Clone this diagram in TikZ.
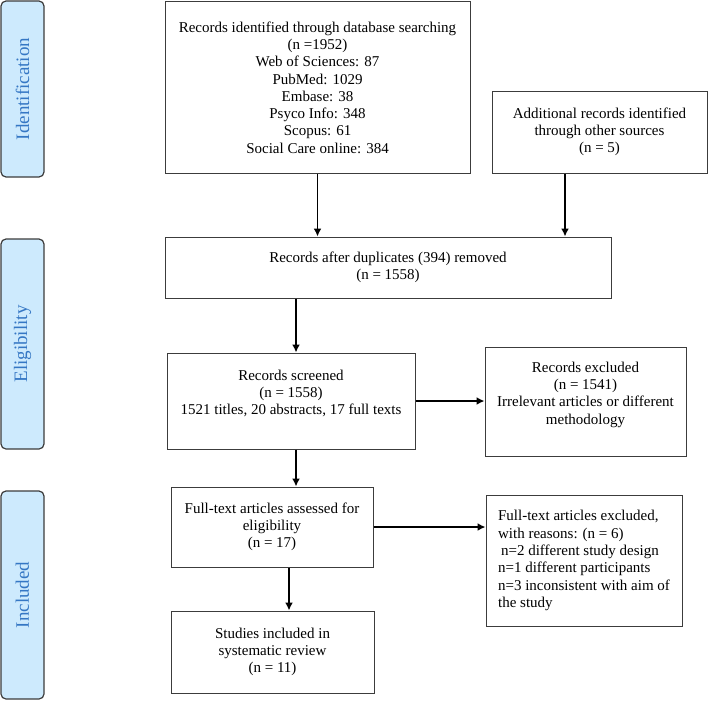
\documentclass[tikz,border=0pt]{standalone}
\usepackage{fontspec}
\setmainfont{Liberation Serif}
\usetikzlibrary{arrows.meta}
\definecolor{phasefill}{HTML}{CDEAFD}
\definecolor{phasetext}{HTML}{3577C4}
\definecolor{boxline}{HTML}{3C3C3C}

\begin{document}
\begin{tikzpicture}[x=1pt, y=-1pt,
    box/.style={draw=boxline, line width=1pt, align=center, inner sep=0pt,
        font=\fontsize{15}{17.3}\selectfont},
    phase/.style={draw=boxline, line width=1.2pt, fill=phasefill, rounded corners=5pt,
        rotate=90, inner sep=0pt, text=phasetext, minimum height=43pt,
        font=\fontsize{19}{22}\selectfont},
    arr/.style={-{Latex[length=8pt,width=8pt]}, line width=1.9pt}]
        \useasboundingbox (0,0) rectangle (709,701);

        \node[phase, minimum width=176pt] (ident) at (22.5,89) {Identification};
        \node[phase, minimum width=210pt] (elig) at (22.5,344) {Eligibility};
        \node[phase, minimum width=208pt] (inclph) at (22.5,595) {Included};

        \node[box, minimum width=305pt, minimum height=171pt] (db) at (317.5,87.5)
            {Records identified through database searching\\(n =1952)\\Web of Sciences: 87\\PubMed: 1029\\Embase: 38\\Psyco Info: 348\\Scopus: 61\\Social Care online: 384};
        \node[box, minimum width=215pt, minimum height=82pt] (other) at (599.5,132)
            {Additional records identified\\through other sources\\(n = 5)};
        \node[box, minimum width=446pt, minimum height=61pt] (dup) at (388,267.5)
            {Records after duplicates (394) removed\\(n = 1558)};
        \node[box, minimum width=248pt, minimum height=96pt] (scr) at (291,401)
            {Records screened\\(n = 1558)\\1521 titles, 20 abstracts, 17 full texts\\\mbox{}};
        \node[box, minimum width=201pt, minimum height=109pt] (excl) at (585.5,401.5)
            {Records excluded\\(n = 1541)\\Irrelevant articles or different\\methodology\\\mbox{}};
        \node[box, minimum width=202pt, minimum height=80pt] (ft) at (272,527)
            {Full-text articles assessed for\\eligibility\\(n = 17)};
        \node[box, align=left, minimum width=196pt, minimum height=131pt] (ftex) at (584,560.5)
            {Full-text articles excluded,\\with reasons: (n = 6)\\\hspace{3pt}n=2 different study design\\n=1 different participants\\n=3 inconsistent with aim of\\the study};
        \node[box, minimum width=203pt, minimum height=82pt] (incl) at (272.5,652)
            {Studies included in\\systematic review\\(n = 11)};

        \draw[arr] (db.south) -- (db.south |- dup.north);
        \draw[arr] ([xshift=-34.5pt]other.south) -- ([xshift=-34.5pt]other.south |- dup.north);
        \draw[arr] ([xshift=5pt]scr.north |- dup.south) -- ([xshift=5pt]scr.north);
        \draw[arr] (scr.east) -- (scr.east -| excl.west);
        \draw[arr] ([xshift=5pt]scr.south) -- ([xshift=5pt]scr.south |- ft.north);
        \draw[arr] (ft.east) -- (ft.east -| ftex.west);
        \draw[arr] ([xshift=17pt]ft.south) -- ([xshift=17pt]ft.south |- incl.north);
    \end{tikzpicture}
\end{document}
